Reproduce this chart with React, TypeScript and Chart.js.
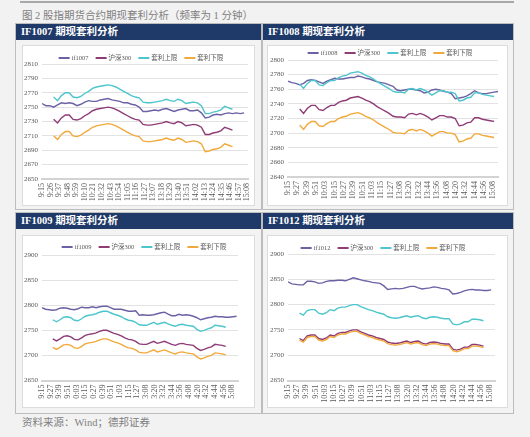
import React, { useEffect, useRef } from "react";
import { Chart, registerables } from "chart.js";

Chart.register(...registerables);

const _ = null;

// minute index since 9:15 (trading minutes), sampled every 5 minutes
const MINUTES = [
  0, 5, 10, 15, 20, 25, 30, 35, 40, 45,
  50, 55, 60, 65, 70, 75, 80, 85, 90, 95,
  100, 105, 110, 115, 120, 125, 130, 135, 140, 145,
  150, 155, 160, 165, 170, 175, 180, 185, 190, 195,
  200, 205, 210, 215, 220, 225, 230, 235, 240, 245,
  250, 255, 260, 265, 270,
];

const TICKS_1007 = ["9:15", "9:26", "9:37", "9:48", "9:59", "10:10", "10:21", "10:32", "10:43", "10:54", "11:05", "11:16", "11:27", "13:07", "13:18", "13:29", "13:40", "13:51", "14:02", "14:13", "14:24", "14:35", "14:46", "14:57", "15:08"];
const TICKS_1008 = ["9:15", "9:27", "9:39", "9:51", "10:03", "10:15", "10:27", "10:39", "10:51", "11:03", "11:15", "11:27", "13:08", "13:20", "13:32", "13:44", "13:56", "14:08", "14:20", "14:32", "14:44", "14:56", "15:08"];
const TICKS_1009 = ["9:15", "9:27", "9:39", "9:51", "0:03", "0:15", "0:27", "0:39", "0:51", "1:03", "1:15", "1:27", "3:08", "3:20", "3:32", "3:44", "3:56", "4:08", "4:20", "4:32", "4:44", "4:56", "5:08"];
const TICKS_1012 = ["9:15", "9:27", "9:39", "9:51", "10:03", "10:15", "10:27", "10:39", "10:51", "11:03", "11:15", "11:27", "13:08", "13:20", "13:32", "13:44", "13:56", "14:08", "14:20", "14:32", "14:44", "14:56", "15:08"];

const SERIES_NAMES = ["沪深300", "套利上限", "套利下限"];

// ---------- IF1007 ----------
const IF1007_FUT = [
  2755, 2752, 2752, 2750, 2753, 2756, 2755, 2756, 2755, 2752,
  2754, 2757, 2759, 2758, 2758, 2760, 2761, 2762, 2760, 2759,
  2758, 2756, 2756, 2754, 2753, 2750, 2744, 2744, 2745, 2746,
  2745, 2747, 2748, 2746, 2744, 2746, 2747, 2748, 2745, 2745,
  2746, 2742, 2735, 2736, 2739, 2740, 2739, 2741, 2742, 2741,
  2742, 2741, 2742, _, _,
];
const IF1007_HS300 = [
  _, _, _, 2733, 2728, 2735, 2739, 2739, 2733, 2732,
  2734, 2738, 2741, 2745, 2747, 2748, 2749, 2750, 2749, 2747,
  2744, 2741, 2738, 2735, 2733, 2732, 2726, 2725, 2725, 2726,
  2727, 2728, 2730, 2728, 2727, 2730, 2728, 2724, 2725, 2726,
  2725, 2722, 2712, 2712, 2714, 2715, 2717, 2722, 2720, 2718,
  _, _, _, _, _,
];
const IF1007_UP = [
  _, _, _, 2764, 2759, 2766, 2770, 2770, 2764, 2763,
  2765, 2769, 2772, 2776, 2778, 2779, 2780, 2781, 2780, 2778,
  2775, 2772, 2769, 2766, 2764, 2763, 2757, 2756, 2756, 2757,
  2758, 2759, 2761, 2759, 2758, 2761, 2759, 2755, 2756, 2757,
  2756, 2752, 2741, 2741, 2743, 2744, 2746, 2751, 2749, 2747,
  _, _, _, _, _,
];
const IF1007_LOW = [
  _, _, _, 2710, 2705, 2712, 2716, 2716, 2710, 2709,
  2711, 2715, 2718, 2722, 2724, 2725, 2726, 2727, 2726, 2724,
  2721, 2718, 2715, 2712, 2710, 2709, 2703, 2702, 2702, 2703,
  2704, 2705, 2707, 2705, 2704, 2707, 2705, 2701, 2702, 2703,
  2702, 2699, 2688, 2689, 2691, 2692, 2694, 2699, 2697, 2695,
  _, _, _, _, _,
];

// ---------- IF1008 ----------
const IF1008_FUT = [
  2771, 2769, 2768, 2766, 2768, 2772, 2773, 2772, 2770, 2768,
  2771, 2773, 2775, 2774, 2774, 2775, 2776, 2776, 2778, 2777,
  2775, 2774, 2772, 2770, 2769, 2768, 2766, 2764, 2759, 2758,
  2759, 2760, 2760, 2759, 2758, 2755, 2756, 2759, 2760, 2759,
  2757, 2756, 2754, 2747, 2748, 2749, 2751, 2754, 2758, 2755,
  2754, 2754, 2755, 2756, 2757,
];
const IF1008_HS300 = [
  _, _, _, 2733, 2727, 2734, 2738, 2738, 2732, 2731,
  2735, 2738, 2738, 2742, 2744, 2745, 2748, 2749, 2750, 2748,
  2745, 2743, 2740, 2736, 2733, 2730, 2727, 2723, 2722, 2722,
  2721, 2726, 2727, 2725, 2727, 2725, 2722, 2718, 2721, 2724,
  2724, 2722, 2722, 2720, 2710, 2711, 2714, 2715, 2721, 2721,
  2719, 2718, 2717, 2716, _,
];
const IF1008_UP = [
  _, _, _, 2767, 2761, 2768, 2772, 2772, 2766, 2765,
  2769, 2772, 2772, 2776, 2778, 2779, 2782, 2783, 2784, 2782,
  2779, 2777, 2774, 2770, 2767, 2764, 2761, 2757, 2756, 2756,
  2755, 2760, 2761, 2759, 2761, 2759, 2756, 2752, 2755, 2758,
  2758, 2756, 2756, 2754, 2744, 2745, 2748, 2749, 2755, 2755,
  2753, 2752, 2751, 2750, _,
];
const IF1008_LOW = [
  _, _, _, 2711, 2705, 2712, 2716, 2716, 2710, 2709,
  2713, 2716, 2716, 2720, 2722, 2723, 2726, 2727, 2728, 2726,
  2723, 2721, 2718, 2714, 2711, 2708, 2705, 2701, 2700, 2700,
  2699, 2704, 2705, 2703, 2705, 2703, 2700, 2696, 2699, 2702,
  2702, 2700, 2700, 2698, 2688, 2689, 2692, 2693, 2699, 2699,
  2697, 2696, 2695, 2694, _,
];

// ---------- IF1009 ----------
const IF1009_FUT = [
  2795, 2792, 2791, 2790, 2791, 2794, 2795, 2794, 2792, 2791,
  2793, 2796, 2795, 2795, 2797, 2795, 2797, 2798, 2798, 2795,
  2792, 2792, 2792, 2790, 2788, 2788, 2789, 2780, 2781, 2780,
  2780, 2781, 2783, 2785, 2786, 2782, 2779, 2779, 2782, 2780,
  2781, 2780, 2778, 2775, 2771, 2773, 2775, 2776, 2778, 2777,
  2777, 2776, 2776, 2777, 2778,
];
const IF1009_HS300 = [
  _, _, _, 2733, 2729, 2733, 2738, 2739, 2737, 2732,
  2731, 2735, 2740, 2742, 2743, 2745, 2748, 2750, 2750, 2747,
  2744, 2742, 2739, 2735, 2732, 2731, 2728, 2723, 2722, 2722,
  2725, 2728, 2724, 2726, 2728, 2725, 2722, 2720, 2723, 2724,
  2722, 2721, 2720, 2714, 2710, 2712, 2715, 2717, 2722, 2721,
  2720, 2718, _, _, _,
];
const IF1009_UP = [
  _, _, _, 2771, 2767, 2771, 2776, 2777, 2775, 2770,
  2769, 2773, 2778, 2780, 2781, 2783, 2786, 2788, 2788, 2785,
  2782, 2780, 2777, 2773, 2770, 2769, 2766, 2761, 2760, 2760,
  2763, 2766, 2762, 2764, 2766, 2763, 2760, 2758, 2761, 2762,
  2760, 2759, 2758, 2752, 2748, 2750, 2753, 2755, 2760, 2759,
  2758, 2756, _, _, _,
];
const IF1009_LOW = [
  _, _, _, 2716, 2712, 2716, 2721, 2722, 2720, 2715,
  2714, 2718, 2723, 2725, 2726, 2728, 2731, 2733, 2733, 2730,
  2727, 2725, 2722, 2718, 2715, 2714, 2711, 2706, 2705, 2705,
  2708, 2711, 2707, 2709, 2711, 2708, 2705, 2703, 2706, 2707,
  2705, 2704, 2703, 2697, 2693, 2695, 2698, 2700, 2705, 2704,
  2703, 2701, _, _, _,
];

// ---------- IF1012 ----------
const IF1012_FUT = [
  2845, 2841, 2840, 2839, 2839, 2846, 2846, 2845, 2842, 2843,
  2846, 2847, 2847, 2848, 2848, 2847, 2850, 2853, 2851, 2849,
  2847, 2846, 2844, 2843, 2842, 2837, 2830, 2831, 2832, 2831,
  2832, 2834, 2836, 2836, 2833, 2831, 2832, 2833, 2835, 2834,
  2832, 2831, 2829, 2821, 2822, 2824, 2827, 2829, 2830, 2829,
  2829, 2828, 2828, 2829, _,
];
const IF1012_HS300 = [
  _, _, _, 2733, 2729, 2738, 2740, 2740, 2733, 2731,
  2734, 2740, 2738, 2743, 2745, 2745, 2748, 2750, 2750, 2746,
  2743, 2740, 2738, 2735, 2733, 2731, 2726, 2724, 2723, 2724,
  2726, 2728, 2725, 2727, 2728, 2724, 2722, 2725, 2726, 2725,
  2723, 2722, 2722, 2712, 2710, 2712, 2716, 2716, 2721, 2721,
  2720, 2718, _, _, _,
];
const IF1012_UP = [
  _, _, _, 2783, 2779, 2788, 2790, 2790, 2783, 2781,
  2784, 2790, 2788, 2793, 2795, 2795, 2798, 2800, 2800, 2796,
  2793, 2790, 2788, 2785, 2783, 2781, 2776, 2774, 2773, 2774,
  2776, 2778, 2775, 2777, 2778, 2774, 2772, 2775, 2776, 2775,
  2773, 2772, 2772, 2762, 2760, 2762, 2766, 2766, 2771, 2771,
  2770, 2768, _, _, _,
];
const IF1012_LOW = [
  _, _, _, 2730, 2726, 2735, 2737, 2737, 2730, 2728,
  2731, 2737, 2735, 2740, 2742, 2742, 2745, 2747, 2747, 2743,
  2740, 2737, 2735, 2732, 2730, 2728, 2723, 2721, 2720, 2721,
  2723, 2725, 2722, 2724, 2725, 2721, 2719, 2722, 2723, 2722,
  2720, 2719, 2719, 2709, 2707, 2709, 2713, 2713, 2718, 2718,
  2717, 2715, _, _, _,
];

// ---------- styles ----------
const SERIF = '"Liberation Serif", "Noto Sans CJK SC", serif';
const TEXT = "#595959";
const COLORS = ["#6b62a6", "#8e3b76", "#4cc6cc", "#f2a93b"];
const NAVY = "#1f3a68";

type Spec = {
  name: string;
  series: (number | null)[][];
  ticks: string[];
  step: number;
  xMax: number;
  yMin: number;
  yMax: number;
  yStep: number;
  box: { left: number; top: number; w: number; h: number };
  yW: number;
  xH: number;
  padTop: number;
  padRight: number;
  legendY: number;
  legendCx: number;
};

const SPECS: Spec[] = [
  {
    name: "if1007", series: [IF1007_FUT, IF1007_HS300, IF1007_UP, IF1007_LOW],
    ticks: TICKS_1007, step: 11, xMax: 265, yMin: 2650, yMax: 2810, yStep: 20,
    box: { left: 22, top: 45, w: 233, h: 161 }, yW: 20, xH: 27, padTop: 19, padRight: 7,
    legendY: 13, legendCx: 119,
  },
  {
    name: "if1008", series: [IF1008_FUT, IF1008_HS300, IF1008_UP, IF1008_LOW],
    ticks: TICKS_1008, step: 12, xMax: 270, yMin: 2640, yMax: 2800, yStep: 20,
    box: { left: 267, top: 45, w: 241, h: 161 }, yW: 21, xH: 29, padTop: 15, padRight: 10,
    legendY: 8, legendCx: 123,
  },
  {
    name: "if1009", series: [IF1009_FUT, IF1009_HS300, IF1009_UP, IF1009_LOW],
    ticks: TICKS_1009, step: 12, xMax: 272, yMin: 2650, yMax: 2900, yStep: 50,
    box: { left: 22, top: 235, w: 233, h: 173 }, yW: 20, xH: 27.5, padTop: 20, padRight: 17,
    legendY: 12, legendCx: 122,
  },
  {
    name: "if1012", series: [IF1012_FUT, IF1012_HS300, IF1012_UP, IF1012_LOW],
    ticks: TICKS_1012, step: 12, xMax: 270, yMin: 2650, yMax: 2900, yStep: 50,
    box: { left: 267, top: 235, w: 241, h: 173 }, yW: 21, xH: 27.5, padTop: 19, padRight: 13,
    legendY: 13, legendCx: 116,
  },
];

const PANELS = [
  { left: 15, top: 23, width: 247, height: 187, title: "IF1007 期现套利分析" },
  { left: 262, top: 23, width: 252, height: 187, title: "IF1008 期现套利分析" },
  { left: 15, top: 212, width: 247, height: 202, title: "IF1009 期现套利分析" },
  { left: 262, top: 212, width: 252, height: 202, title: "IF1012 期现套利分析" },
];

const miniLegend = {
  id: "miniLegend",
  afterDraw(chart: any, _args: any, opts: any) {
    const ctx = chart.ctx as CanvasRenderingContext2D;
    const ds = chart.data.datasets;
    ctx.save();
    ctx.font = `${opts.size}px ${SERIF}`;
    ctx.textBaseline = "middle";
    const lineW = 11, gap = 2, sep = 7;
    const widths = ds.map((d: any) => lineW + gap + ctx.measureText(d.label).width);
    const total = widths.reduce((a: number, b: number) => a + b, 0) + sep * (ds.length - 1);
    let x = opts.cx - total / 2;
    ds.forEach((d: any, i: number) => {
      ctx.strokeStyle = d.borderColor;
      ctx.lineWidth = 2;
      ctx.beginPath();
      ctx.moveTo(x, opts.y);
      ctx.lineTo(x + lineW, opts.y);
      ctx.stroke();
      ctx.fillStyle = TEXT;
      ctx.fillText(d.label, x + lineW + gap, opts.y + 0.5);
      x += widths[i] + sep;
    });
    ctx.restore();
  },
};

function buildConfig(spec: Spec): any {
  const labels = [spec.name, ...SERIES_NAMES];
  return {
    type: "line",
    data: {
      datasets: spec.series.map((vals, k) => ({
        label: labels[k],
        data: MINUTES.map((m, i) => ({ x: m, y: vals[i] })),
        borderColor: COLORS[k],
        backgroundColor: COLORS[k],
        borderWidth: 1.4,
        pointRadius: 0,
        tension: 0,
        spanGaps: false,
        order: 4 - k,
      })),
    },
    options: {
      animation: false,
      responsive: false,
      maintainAspectRatio: false,
      layout: { padding: { top: spec.padTop, right: spec.padRight, left: 0, bottom: 0 } },
      plugins: {
        legend: { display: false },
        tooltip: { enabled: false },
        miniLegend: { y: spec.legendY, cx: spec.legendCx, size: 6.5 },
      },
      scales: {
        x: {
          type: "linear",
          min: 0,
          max: spec.xMax,
          grid: { display: false, drawTicks: false },
          border: { display: true, color: "#d3d3d3", width: 2 },
          ticks: {
            autoSkip: false,
            minRotation: 90,
            maxRotation: 90,
            padding: 4,
            color: TEXT,
            font: { family: SERIF, size: 8 },
            callback: (_v: any, i: number) => spec.ticks[i],
          },
          afterBuildTicks: (ax: any) => {
            ax.ticks = spec.ticks.map((_t, i) => ({ value: i * spec.step }));
          },
          afterFit: (ax: any) => {
            ax.height = spec.xH;
            ax.paddingLeft = 0;
            ax.paddingRight = 0;
          },
        },
        y: {
          min: spec.yMin,
          max: spec.yMax,
          grid: { color: "#e2e2e2", drawTicks: false, lineWidth: 1 },
          border: { display: false },
          ticks: {
            stepSize: spec.yStep,
            padding: 4,
            color: TEXT,
            font: { family: SERIF, size: 7 },
            callback: (v: any) => String(v),
          },
          afterFit: (ax: any) => {
            ax.width = spec.yW;
            ax.paddingTop = 0;
            ax.paddingBottom = 0;
          },
        },
      },
    },
    plugins: [miniLegend],
  };
}

function ChartBox({ spec }: { spec: Spec }) {
  const ref = useRef<HTMLCanvasElement>(null);
  useEffect(() => {
    const c = ref.current;
    if (!c) return;
    const chart = new Chart(c, buildConfig(spec));
    return () => chart.destroy();
  }, [spec]);
  const { left, top, w, h } = spec.box;
  return (
    <>
      <div
        style={{
          position: "absolute", left, top, width: w, height: h,
          background: "#ffffff", border: "1px solid #dcdcdc", boxSizing: "border-box",
        }}
      />
      <canvas
        ref={ref}
        width={w}
        height={h}
        style={{ position: "absolute", left, top, width: w, height: h }}
      />
    </>
  );
}

export default function App() {
  return (
    <div
      style={{
        position: "absolute", left: 0, top: 0, width: 530, height: 437,
        background: "#f2f2f2", overflow: "hidden", fontFamily: SERIF,
      }}
    >
      <div style={{ position: "absolute", left: 20, top: 1, width: 494, height: 2, background: "#a8a8a8" }} />
      <div
        style={{
          position: "absolute", left: 22, top: 10, fontSize: 10.5, lineHeight: "12px",
          color: "#808080", whiteSpace: "nowrap",
        }}
      >
        图 2 股指期货合约期现套利分析（频率为 1 分钟）
      </div>
      {PANELS.map((p) => (
        <div
          key={p.title}
          style={{
            position: "absolute", left: p.left, top: p.top, width: p.width, height: p.height,
            border: "1px solid #bdbdbd", boxSizing: "border-box", background: "#f3f3f3",
          }}
        >
          <div
            style={{
              position: "absolute", left: 0, top: 0, right: 0, height: 16, background: NAVY,
              color: "#ffffff", fontWeight: "bold", fontSize: 10.5, lineHeight: "16px",
              paddingLeft: 5, whiteSpace: "nowrap",
            }}
          >
            {p.title}
          </div>
        </div>
      ))}
      {SPECS.map((s) => (
        <ChartBox key={s.name} spec={s} />
      ))}
      <div
        style={{
          position: "absolute", left: 22, top: 417, fontSize: 10.5, lineHeight: "12px",
          color: "#808080", whiteSpace: "nowrap",
        }}
      >
        资料来源：Wind；德邦证券
      </div>
    </div>
  );
}
